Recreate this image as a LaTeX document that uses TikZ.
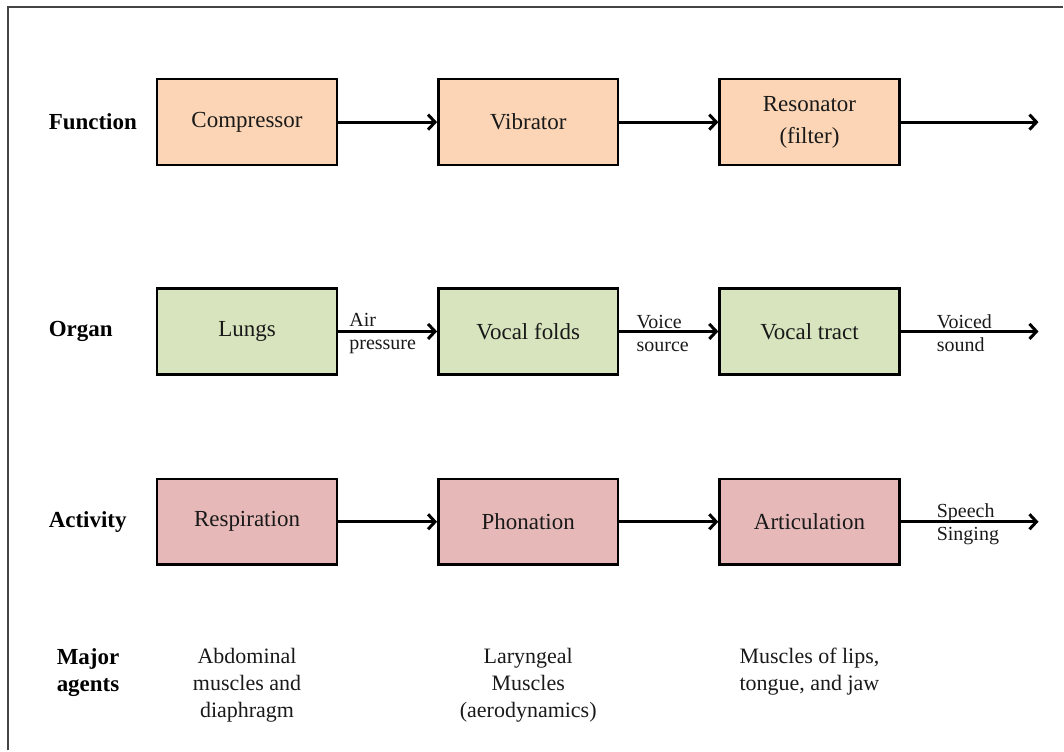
\documentclass[tikz,border=0pt]{standalone}
\usepackage{fontspec}
\setmainfont{Liberation Serif}
\usepackage{tikz}
\usetikzlibrary{arrows.meta}
\usetikzlibrary{positioning}

\definecolor{funcfill}{HTML}{FBD5B5}
\definecolor{organfill}{HTML}{D7E4BD}
\definecolor{actfill}{HTML}{E6B9B8}
\definecolor{framegray}{HTML}{444444}

\begin{document}
\begin{tikzpicture}[>={Straight Barb[length=7pt,width=15pt]},
	stage/.style={draw,line width=2.5pt,minimum width=180pt,minimum height=86pt,inner sep=0pt,align=center,text=black!90,font=\fontsize{23}{32}\selectfont},
	func/.style={stage,fill=funcfill},
	organ/.style={stage,fill=organfill},
	act/.style={stage,fill=actfill},
	rowlbl/.style={anchor=west,inner sep=0pt,font=\bfseries\fontsize{23}{27}\selectfont},
	agent/.style={anchor=north,inner sep=0pt,align=center,text=black!90,font=\fontsize{22}{27}\selectfont},
	flowlbl/.style={anchor=west,inner sep=0pt,align=left,yshift=-2pt,text=black!90,font=\fontsize{20}{23}\selectfont},
	flow/.style={->,line width=3pt}]
	\matrix[row sep=0pt,column sep=99pt] {
		\node[rowlbl] (function) {Function}; &[-80pt] \node[func] (comp) {Compressor}; & \node[func] (vib) {Vibrator}; & \node[func] (res) {Resonator\\(filter)}; \\[121pt]
		\node[rowlbl] (organ) {Organ}; &[-80pt] \node[organ] (lungs) {Lungs}; & \node[organ] (folds) {Vocal folds}; & \node[organ] (tract) {Vocal tract}; \\[102pt]
		\node[rowlbl] (activity) {Activity}; &[-80pt] \node[act] (resp) {Respiration}; & \node[act] (phon) {Phonation}; & \node[act] (artic) {Articulation}; \\[82pt]
		\node[rowlbl,anchor=north west,align=center,xshift=8pt] (agents) {Major\\agents}; &[-80pt] \node[agent] (abd) {Abdominal\\muscles and\\diaphragm}; & \node[agent] (laryn) {Laryngeal\\Muscles\\(aerodynamics)}; & \node[agent] (lips) {Muscles of lips,\\tongue, and jaw}; \\
	};
	% free ends of the last arrows
	\coordinate[right=138pt of res.east] (funcout);
	\coordinate[right=138pt of tract.east] (organout);
	\coordinate[right=138pt of artic.east] (actout);
	\path	(comp)	edge[flow]	(vib)
			(vib)	edge[flow]	(res)
			(res)	edge[flow]	(funcout)
			(lungs)	edge[flow]	(folds)
			(folds)	edge[flow]	(tract)
			(tract)	edge[flow]	(organout)
			(resp)	edge[flow]	(phon)
			(phon)	edge[flow]	(artic)
			(artic)	edge[flow]	(actout);
	\node[flowlbl,right=11pt of lungs.east] (airlbl) {Air\\pressure};
	\node[flowlbl,right=17pt of folds.east] (voicelbl) {Voice\\source};
	\node[flowlbl,right=36pt of tract.east] (soundlbl) {Voiced\\sound};
	\node[flowlbl,right=36pt of artic.east] (speechlbl) {Speech\\Singing};
	% frame
	\coordinate (framebot) at ([shift={(-148pt,-673pt)}]comp.north west);
	\coordinate (framecorner) at ([shift={(-148pt,71pt)}]comp.north west);
	\coordinate (frameright) at ([shift={(908pt,71pt)}]comp.north west);
	\draw[framegray,line width=2pt] (framebot) -- (framecorner) -- (frameright);
	\useasboundingbox ([shift={(-156pt,78pt)}]comp.north west) rectangle ([shift={(908pt,-673pt)}]comp.north west);
\end{tikzpicture}
\end{document}
